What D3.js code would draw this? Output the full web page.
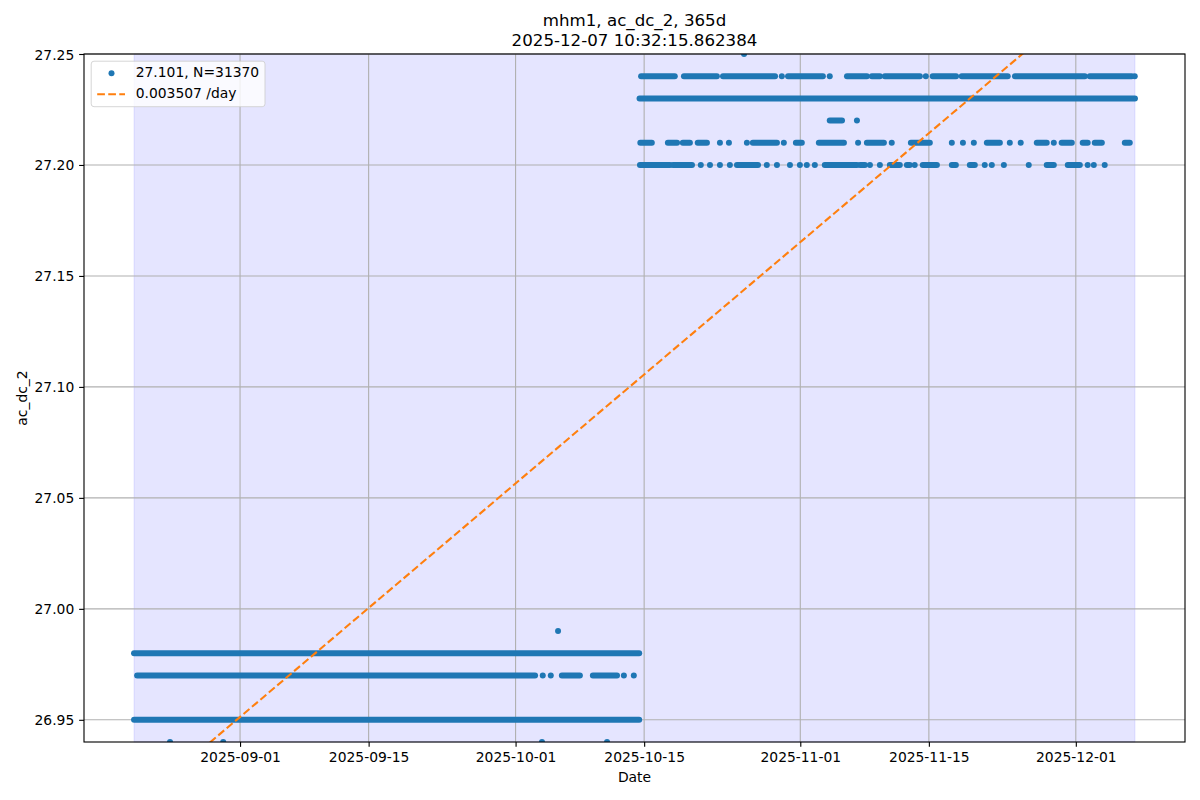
<!DOCTYPE html>
<html><head><meta charset="utf-8">
<script src="https://cdn.jsdelivr.net/npm/d3@7"></script>
<style>body{margin:0;background:#fff}svg{font-family:"DejaVu Sans",sans-serif;display:block}</style>
</head><body><svg id="chart" width="1200" height="800"></svg>
<script>
// ---------- data ----------
const titleLines = ["mhm1, ac_dc_2, 365d", "2025-12-07 10:32:15.862384"];
const xLabel = "Date";
const yLabel = "ac_dc_2";
const dataStart = "2025-08-20 11:00:00";
const dataEnd = "2025-12-07 10:32:15";
const yLimits = [26.94, 27.25];
const yTicks = [26.95, 27.00, 27.05, 27.10, 27.15, 27.20, 27.25];
const xTicks = ["2025-09-01", "2025-09-15", "2025-10-01", "2025-10-15", "2025-11-01", "2025-11-15", "2025-12-01"];
const meanValue = 27.101;
const sampleCount = 31370;
const slopePerDay = 0.003507;
const trendAnchorDate = "2025-10-15 00:00";
const trendAnchorValue = 27.1056;

// observations per level: [start, end] = dense run of samples, [t] = single sample (dates in 2025, "MM-DD HH:MM")
const obs2694 = [["08-24 09:00"], ["08-30 04:00"], ["10-03 21:00"], ["10-10 23:00"]];
const obs2695 = [["08-20 11:00", "10-14 11:00"]];
const obs2697 = [["08-20 19:00", "10-03 03:00"], ["10-03 23:00"], ["10-04 20:00"], ["10-06 01:00", "10-08 00:00"],
  ["10-09 10:00", "10-12 01:00"], ["10-12 19:00"], ["10-13 21:00"]];
const obs2698 = [["08-20 11:00", "10-14 11:00"]];
const obs2699 = [["10-05 15:00"]];
const obs2720 = [["10-14 13:00", "10-17 19:30"], ["10-18 03:00", "10-20 05:00"], ["10-21 04:00"], ["10-22 04:00"],
  ["10-23 06:00"], ["10-24 08:00"], ["10-25 02:30", "10-27 09:30"], ["10-28 08:30"], ["10-29 11:00"], ["10-30 21:00"],
  ["10-31 23:00"], ["11-01 17:00"], ["11-02 14:00"], ["11-03 16:00", "11-07 04:00"], ["11-07 12:00", "11-08 01:00"],
  ["11-08 14:00"], ["11-09 16:00"], ["11-10 18:00", "11-11 20:00"], ["11-12 14:30", "11-12 22:00"], ["11-13 11:00"],
  ["11-14 08:00", "11-15 21:00"], ["11-17 12:00", "11-17 22:30"], ["11-19 11:00", "11-20 00:00"], ["11-21 02:00"],
  ["11-21 20:30"], ["11-23 04:00"], ["11-25 21:00"], ["11-27 20:00", "11-28 14:30"], ["11-30 03:00", "12-01 10:30"],
  ["12-02 07:00"], ["12-02 23:00"], ["12-04 03:30"]];
const obs2721 = [["10-14 14:00", "10-15 20:00"], ["10-17 14:00", "10-18 14:00"], ["10-19 05:00", "10-19 23:30"],
  ["10-20 20:00", "10-21 20:00"], ["10-23 06:00"], ["10-24 05:30"], ["10-26 04:30"], ["10-26 20:00", "10-29 11:00"],
  ["10-30 05:00"], ["10-31 12:30", "11-01 04:00"], ["11-03 00:30", "11-05 18:00"], ["11-07 07:00"],
  ["11-08 06:00", "11-10 02:30"], ["11-10 23:00"], ["11-13 01:00", "11-15 02:30"], ["11-17 12:00"], ["11-18 17:00"],
  ["11-19 21:30"], ["11-21 07:30", "11-22 17:30"], ["11-23 19:30"], ["11-25 00:00"], ["11-26 18:00", "11-27 20:00"],
  ["11-28 14:30"], ["11-29 11:00", "11-30 13:30"], ["12-01 18:00", "12-02 07:00"], ["12-03 01:30", "12-03 20:00"],
  ["12-06 08:00", "12-06 21:00"]];
const obs2722 = [["11-04 05:00", "11-05 13:00"], ["11-07 04:00"]];
const obs2723 = [["10-14 12:00", "12-07 10:32"]];
const obs2724 = [["10-14 16:00", "10-18 08:00"], ["10-19 08:00", "10-22 22:00"], ["10-23 14:00", "10-29 06:00"],
  ["10-29 23:45"], ["10-30 16:00", "11-03 11:00"], ["11-04 05:00"], ["11-06 02:00", "11-08 06:00"],
  ["11-08 19:00", "11-09 16:00"], ["11-10 05:00", "11-14 00:30"], ["11-14 16:00"], ["11-15 10:00", "11-17 23:00"],
  ["11-18 14:00", "11-23 14:00"], ["11-24 09:00", "12-01 23:30"], ["12-02 12:30", "12-07 02:00"], ["12-07 10:00"]];
const obs2725 = [["10-25 21:00"]];

const series = [
  {level: 26.94, obs: obs2694}, {level: 26.95, obs: obs2695}, {level: 26.97, obs: obs2697},
  {level: 26.98, obs: obs2698}, {level: 26.99, obs: obs2699}, {level: 27.20, obs: obs2720},
  {level: 27.21, obs: obs2721}, {level: 27.22, obs: obs2722}, {level: 27.23, obs: obs2723},
  {level: 27.24, obs: obs2724}, {level: 27.25, obs: obs2725}
];

// ---------- layout ----------
const PT = 100 / 72;
const plot = {left: 84, right: 1185, top: 54, bottom: 742};
const blue = "#1f77b4", orange = "#ff7f0e";
const fs = 10 * PT;

const pMin = d3.timeParse("%Y-%m-%d %H:%M");
const pSec = d3.timeParse("%Y-%m-%d %H:%M:%S");
const pDay = d3.timeParse("%Y-%m-%d");
const pObs = s => pMin("2025-" + s);

const t0 = pSec(dataStart), t1 = pSec(dataEnd);
const span = t1 - t0;
const x = d3.scaleTime().domain([new Date(+t0 - 0.05 * span), new Date(+t1 + 0.05 * span)])
  .range([plot.left, plot.right]);
const y = d3.scaleLinear().domain(yLimits).range([plot.bottom, plot.top]);

const svg = d3.select("#chart");
svg.append("rect").attr("width", 1200).attr("height", 800).attr("fill", "#fff");

svg.append("defs").append("clipPath").attr("id", "clip").append("rect")
  .attr("x", plot.left).attr("y", plot.top)
  .attr("width", plot.right - plot.left).attr("height", plot.bottom - plot.top);

// shaded data extent
svg.append("rect")
  .attr("x", x(t0)).attr("y", plot.top)
  .attr("width", x(t1) - x(t0)).attr("height", plot.bottom - plot.top)
  .attr("fill", "blue").attr("fill-opacity", 0.1)
  .attr("stroke", "blue").attr("stroke-opacity", 0.1).attr("stroke-width", 1);

// grid
const xTickDates = xTicks.map(pDay);
const grid = svg.append("g").attr("stroke", "#b0b0b0").attr("stroke-width", 0.8 * PT);
grid.selectAll(".gx").data(xTickDates).join("line")
  .attr("x1", d => x(d)).attr("x2", d => x(d)).attr("y1", plot.top).attr("y2", plot.bottom);
grid.selectAll(".gy").data(yTicks).join("line")
  .attr("x1", plot.left).attr("x2", plot.right).attr("y1", d => y(d)).attr("y2", d => y(d));

// observations
const markR = 3.0;
const dots = svg.append("g").attr("clip-path", "url(#clip)");
series.forEach(s => {
  const runs = s.obs.filter(o => o.length === 2);
  const singles = s.obs.filter(o => o.length === 1);
  dots.selectAll(null).data(runs).join("line")
    .attr("x1", d => x(pObs(d[0]))).attr("x2", d => x(pObs(d[1])))
    .attr("y1", y(s.level)).attr("y2", y(s.level))
    .attr("stroke", blue).attr("stroke-width", markR * 2).attr("stroke-linecap", "round");
  dots.selectAll(null).data(singles).join("circle")
    .attr("cx", d => x(pObs(d[0]))).attr("cy", y(s.level)).attr("r", markR).attr("fill", blue);
});

// trend line
const anchor = pMin(trendAnchorDate);
const trendVal = t => trendAnchorValue + slopePerDay * (t - anchor) / 86400000;
svg.append("g").attr("clip-path", "url(#clip)").append("line")
  .attr("x1", x(t0)).attr("y1", y(trendVal(t0)))
  .attr("x2", x(t1)).attr("y2", y(trendVal(t1)))
  .attr("stroke", orange).attr("stroke-width", 1.5 * PT)
  .attr("stroke-dasharray", `${3.7 * 1.5 * PT},${1.6 * 1.5 * PT}`);

// axes
const tickLen = 3.5 * PT;
const xAxis = svg.append("g").attr("transform", `translate(0,${plot.bottom})`)
  .call(d3.axisBottom(x).tickValues(xTickDates).tickFormat(d3.timeFormat("%Y-%m-%d"))
    .tickSize(tickLen).tickPadding(tickLen));
const yAxis = svg.append("g").attr("transform", `translate(${plot.left},0)`)
  .call(d3.axisLeft(y).tickValues(yTicks).tickFormat(d3.format(".2f"))
    .tickSize(tickLen).tickPadding(tickLen));
[xAxis, yAxis].forEach(a => {
  a.select(".domain").remove();
  a.selectAll(".tick line").attr("stroke", "#000").attr("stroke-width", 0.8 * PT);
  a.selectAll(".tick text").attr("fill", "#000").attr("font-size", fs)
    .attr("font-family", "DejaVu Sans");
});
yAxis.selectAll(".tick text").attr("dy", "0.36em");

// spines
svg.append("rect").attr("x", plot.left).attr("y", plot.top)
  .attr("width", plot.right - plot.left).attr("height", plot.bottom - plot.top)
  .attr("fill", "none").attr("stroke", "#000").attr("stroke-width", 0.8 * PT);

// labels & title
const cx = (plot.left + plot.right) / 2;
svg.append("text").attr("x", cx).attr("y", 782).attr("text-anchor", "middle")
  .attr("font-size", fs).text(xLabel);
svg.append("text").attr("transform", `translate(26.5,${(plot.top + plot.bottom) / 2}) rotate(-90)`)
  .attr("text-anchor", "middle").attr("font-size", fs).text(yLabel);
svg.append("text").attr("x", cx).attr("y", 25.8).attr("text-anchor", "middle")
  .attr("font-size", 12 * PT).text(titleLines[0]);
svg.append("text").attr("x", cx).attr("y", 45.7).attr("text-anchor", "middle")
  .attr("font-size", 12 * PT).text(titleLines[1]);

// legend
const lg = svg.append("g");
lg.append("rect").attr("x", 91.2).attr("y", 61.2).attr("width", 173.8).attr("height", 45.5)
  .attr("rx", 2.8).attr("fill", "#fff").attr("fill-opacity", 0.8)
  .attr("stroke", "#cccccc").attr("stroke-opacity", 0.8).attr("stroke-width", 1);
lg.append("circle").attr("cx", 111.5).attr("cy", 73.3).attr("r", markR).attr("fill", blue);
lg.append("text").attr("x", 135.7).attr("y", 77.4).attr("font-size", fs)
  .text(`${meanValue.toFixed(3)}, N=${sampleCount}`);
lg.append("line").attr("x1", 97.2).attr("x2", 125).attr("y1", 94.2).attr("y2", 94.2)
  .attr("stroke", orange).attr("stroke-width", 1.5 * PT)
  .attr("stroke-dasharray", `${3.7 * 1.5 * PT},${1.6 * 1.5 * PT}`);
lg.append("text").attr("x", 135.7).attr("y", 98.3).attr("font-size", fs)
  .text(`${slopePerDay.toFixed(6)} /day`);
</script></body></html>
